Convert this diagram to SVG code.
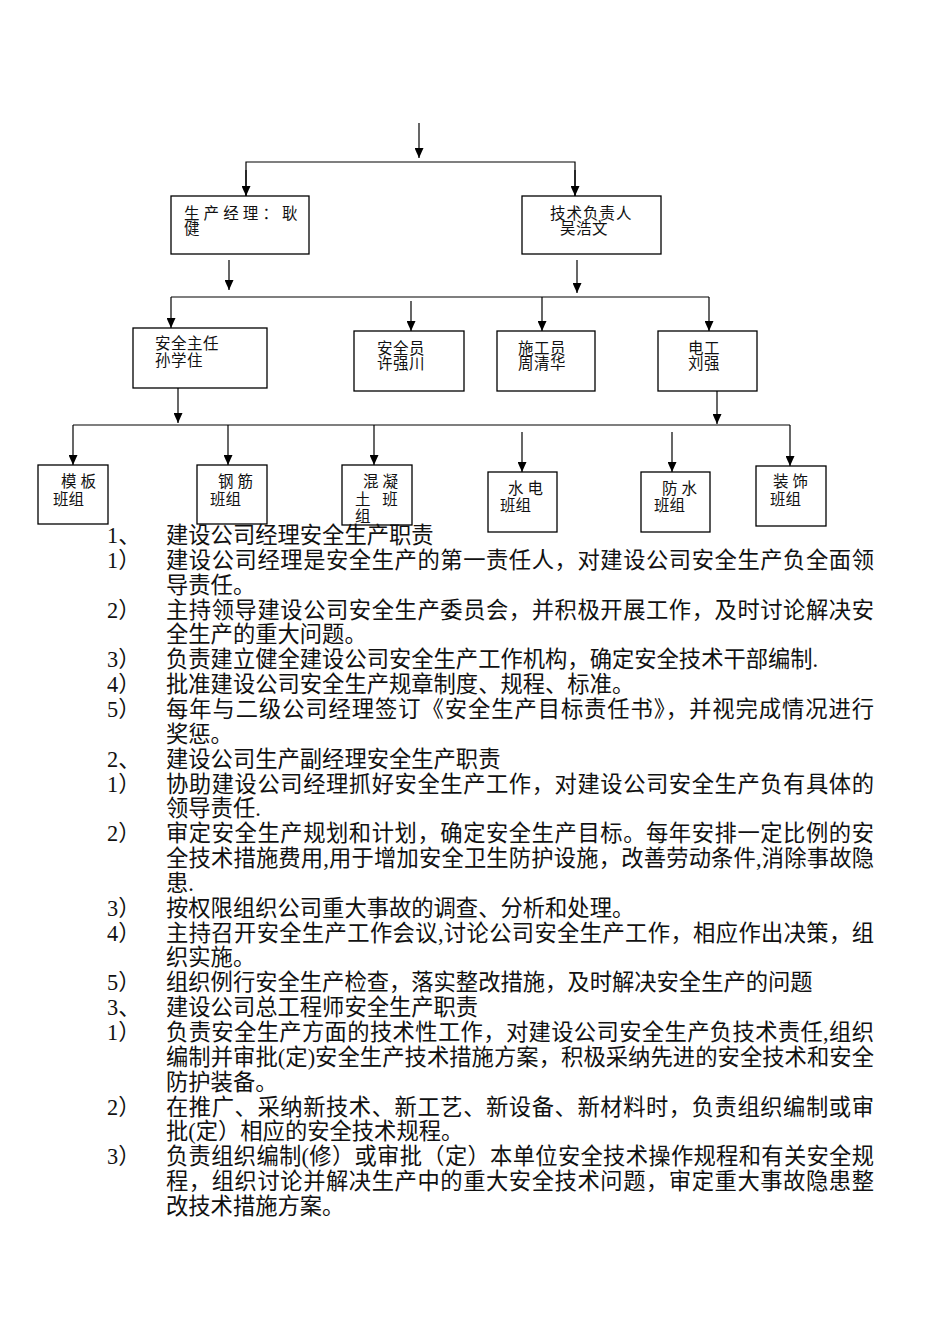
<svg xmlns="http://www.w3.org/2000/svg" width="950" height="1344" viewBox="0 0 950 1344">
<style>
.box{fill:#fff;stroke:#000;stroke-width:1.3}
.lbl{font-family:"Liberation Serif","Noto Sans CJK SC",serif;font-size:15.5px;fill:#111}
.body{font-family:"Liberation Serif","Noto Sans CJK SC",serif;font-size:22.3px;fill:#111}
.conn line,.conn polyline{stroke:#000;stroke-width:1.2;fill:none}
.arr{marker-end:url(#ah)}
</style>
<defs>
<marker id="ah" markerUnits="userSpaceOnUse" markerWidth="10" markerHeight="9" refX="10" refY="4.5" orient="auto">
<path d="M0,0 L10,4.5 L0,9 z" fill="#000"/>
</marker>
</defs>
<rect width="950" height="1344" fill="#fff"/>
<g id="connectors" class="conn">
<line class="arr" x1="419" y1="123" x2="419" y2="158"/>
<polyline points="246,196 246,162 575,162 575,196"/>
<line class="arr" x1="246" y1="170" x2="246" y2="196"/>
<line class="arr" x1="575" y1="170" x2="575" y2="196"/>
<line class="arr" x1="229" y1="260" x2="229" y2="290"/>
<line class="arr" x1="577" y1="260" x2="577" y2="293"/>
<line x1="171" y1="297" x2="709" y2="297"/>
<line class="arr" x1="171" y1="297" x2="171" y2="328"/>
<line class="arr" x1="411" y1="301" x2="411" y2="331"/>
<line class="arr" x1="542" y1="297" x2="542" y2="331"/>
<line class="arr" x1="709" y1="297" x2="709" y2="331"/>
<line class="arr" x1="178" y1="388" x2="178" y2="423"/>
<line class="arr" x1="717" y1="391" x2="717" y2="424"/>
<line x1="73" y1="425" x2="790" y2="425"/>
<line class="arr" x1="73" y1="425" x2="73" y2="465"/>
<line class="arr" x1="228" y1="425" x2="228" y2="465"/>
<line class="arr" x1="374" y1="425" x2="374" y2="465"/>
<line class="arr" x1="522" y1="432" x2="522" y2="472"/>
<line class="arr" x1="672" y1="432" x2="672" y2="472"/>
<line class="arr" x1="790" y1="425" x2="790" y2="466"/>
</g>
<g id="n-prod">
<rect class="box" x="171" y="196" width="138" height="58"/>
<text class="lbl" x="184" y="219" letter-spacing="4.1">生产经理：耿</text>
<text class="lbl" x="184" y="234">健</text>
</g>
<g id="n-tech">
<rect class="box" x="522" y="196" width="139" height="58"/>
<text class="lbl" x="550" y="219" letter-spacing="1">技术负责人</text>
<text class="lbl" x="560" y="234" letter-spacing="0.5">吴浩文</text>
</g>
<g id="n-safety-dir">
<rect class="box" x="133" y="328" width="134" height="60"/>
<text class="lbl" x="155" y="349" letter-spacing="0.5">安全主任</text>
<text class="lbl" x="155" y="366" letter-spacing="0.5">孙学住</text>
</g>
<g id="n-safety-off">
<rect class="box" x="354" y="331" width="110" height="60"/>
<text class="lbl" x="377" y="354" letter-spacing="0.5">安全员</text>
<text class="lbl" x="377" y="369" letter-spacing="0.5">许强川</text>
</g>
<g id="n-constr">
<rect class="box" x="497" y="331" width="98" height="60"/>
<text class="lbl" x="518" y="354" letter-spacing="0.5">施工员</text>
<text class="lbl" x="518" y="369" letter-spacing="0.5">周清华</text>
</g>
<g id="n-elec">
<rect class="box" x="658" y="331" width="99" height="60"/>
<text class="lbl" x="688" y="354" letter-spacing="0.5">电工</text>
<text class="lbl" x="688" y="369" letter-spacing="0.5">刘强</text>
</g>
<g id="n-formwork">
<rect class="box" x="38" y="465" width="70" height="59"/>
<text class="lbl" x="61" y="487" xml:space="preserve">模 板</text>
<text class="lbl" x="53" y="505">班组</text>
</g>
<g id="n-rebar">
<rect class="box" x="197" y="465" width="70" height="59"/>
<text class="lbl" x="218" y="487" xml:space="preserve">钢 筋</text>
<text class="lbl" x="210" y="505">班组</text>
</g>
<g id="n-concrete">
<rect class="box" x="342" y="465" width="70" height="60"/>
<text class="lbl" x="363" y="487" xml:space="preserve">混 凝</text>
<text class="lbl" x="355" y="505" xml:space="preserve">土   班</text>
<text class="lbl" x="355" y="522">组</text>
</g>
<g id="n-plumb">
<rect class="box" x="488" y="472" width="69" height="60"/>
<text class="lbl" x="508" y="494" xml:space="preserve">水 电</text>
<text class="lbl" x="500" y="511">班组</text>
</g>
<g id="n-waterproof">
<rect class="box" x="641" y="472" width="69" height="60"/>
<text class="lbl" x="662" y="494" xml:space="preserve">防 水</text>
<text class="lbl" x="654" y="511">班组</text>
</g>
<g id="n-decor">
<rect class="box" x="756" y="466" width="70" height="60"/>
<text class="lbl" x="773" y="487" xml:space="preserve">装 饰</text>
<text class="lbl" x="770" y="505">班组</text>
</g>
<g id="body-text" class="body">
<text x="107" y="543">1、</text><text x="166" y="543">建设公司经理安全生产职责</text>
<text x="107" y="568">1）</text><text x="166" y="568" textLength="708" lengthAdjust="spacing">建设公司经理是安全生产的第一责任人，对建设公司安全生产负全面领</text>
<text x="166" y="593">导责任。</text>
<text x="107" y="617.5">2）</text><text x="166" y="617.5" textLength="708" lengthAdjust="spacing">主持领导建设公司安全生产委员会，并积极开展工作，及时讨论解决安</text>
<text x="166" y="642.4">全生产的重大问题。</text>
<text x="107" y="667.2">3）</text><text x="166" y="667.2">负责建立健全建设公司安全生产工作机构，确定安全技术干部编制.</text>
<text x="107" y="692.1">4）</text><text x="166" y="692.1">批准建设公司安全生产规章制度、规程、标准。</text>
<text x="107" y="717">5）</text><text x="166" y="717" textLength="708" lengthAdjust="spacing">每年与二级公司经理签订《安全生产目标责任书》，并视完成情况进行</text>
<text x="166" y="741.8">奖惩。</text>
<text x="107" y="766.6">2、</text><text x="166" y="766.6">建设公司生产副经理安全生产职责</text>
<text x="107" y="791.5">1）</text><text x="166" y="791.5" textLength="708" lengthAdjust="spacing">协助建设公司经理抓好安全生产工作，对建设公司安全生产负有具体的</text>
<text x="166" y="816.3">领导责任.</text>
<text x="107" y="841.2">2）</text><text x="166" y="841.2" textLength="708" lengthAdjust="spacing">审定安全生产规划和计划，确定安全生产目标。每年安排一定比例的安</text>
<text x="166" y="866" textLength="708" lengthAdjust="spacing">全技术措施费用,用于增加安全卫生防护设施，改善劳动条件,消除事故隐</text>
<text x="166" y="890.9">患.</text>
<text x="107" y="915.7">3）</text><text x="166" y="915.7">按权限组织公司重大事故的调查、分析和处理。</text>
<text x="107" y="940.6">4）</text><text x="166" y="940.6" textLength="708" lengthAdjust="spacing">主持召开安全生产工作会议,讨论公司安全生产工作，相应作出决策，组</text>
<text x="166" y="965.4">织实施。</text>
<text x="107" y="990.3">5）</text><text x="166" y="990.3">组织例行安全生产检查，落实整改措施，及时解决安全生产的问题</text>
<text x="107" y="1015.1">3、</text><text x="166" y="1015.1">建设公司总工程师安全生产职责</text>
<text x="107" y="1040">1）</text><text x="166" y="1040" textLength="708" lengthAdjust="spacing">负责安全生产方面的技术性工作，对建设公司安全生产负技术责任,组织</text>
<text x="166" y="1064.8" textLength="708" lengthAdjust="spacing">编制并审批(定)安全生产技术措施方案，积极采纳先进的安全技术和安全</text>
<text x="166" y="1089.7">防护装备。</text>
<text x="107" y="1114.5">2）</text><text x="166" y="1114.5" textLength="708" lengthAdjust="spacing">在推广、采纳新技术、新工艺、新设备、新材料时，负责组织编制或审</text>
<text x="166" y="1139.4">批(定）相应的安全技术规程。</text>
<text x="107" y="1164.2">3）</text><text x="166" y="1164.2" textLength="708" lengthAdjust="spacing">负责组织编制(修）或审批（定）本单位安全技术操作规程和有关安全规</text>
<text x="166" y="1189.1" textLength="708" lengthAdjust="spacing">程，组织讨论并解决生产中的重大安全技术问题，审定重大事故隐患整</text>
<text x="166" y="1214">改技术措施方案。</text>
</g>
</svg>
